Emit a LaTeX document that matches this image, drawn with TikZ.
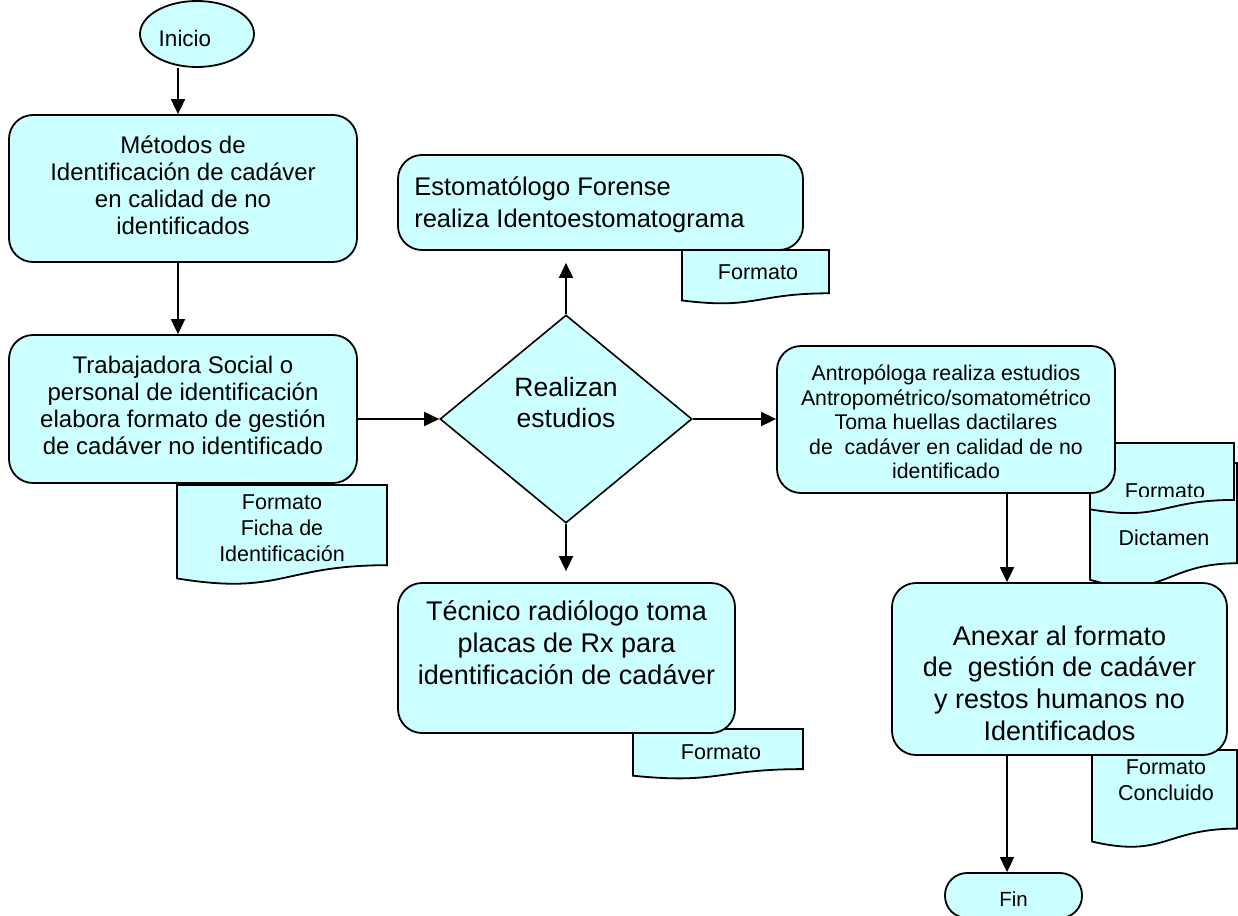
\documentclass[tikz,border=0pt]{standalone}
\usepackage{fontspec}
\setmainfont{Liberation Sans}
\usetikzlibrary{shapes.geometric,arrows.meta,calc}
\definecolor{cyanfill}{HTML}{CCFFFF}
\newcommand\setfs[2]{\fontsize{#1pt}{#2pt}\selectfont}
% flowchart "document" symbol: x0, y0 (top left), width, height
\newcommand\docshape[4]{%
  \draw[docline] (#1,#2) -- ({#1+#3},#2) -- ({#1+#3},{#2+0.802*#4})
    .. controls ({#1+#3/2},{#2+0.802*#4}) and ({#1+#3/2},{#2+1.1075*#4}) .. (#1,{#2+0.934*#4}) -- cycle;}
\tikzset{
  docline/.style={draw=black, line width=1.8pt, fill=cyanfill, line join=miter},
  doctxt/.style={align=center, inner sep=0pt, font=\setfs{21.5}{26}},
  procbox/.style={draw=black, line width=1.8pt, fill=cyanfill, rounded corners=24pt, align=center, inner sep=0pt},
  term/.style={draw=black, line width=1.8pt, fill=cyanfill, inner sep=0pt},
  decbox/.style={draw=black, line width=1.6pt, fill=cyanfill, diamond, inner sep=0pt},
  arr/.style={draw=black, line width=1.8pt, -{Triangle[length=15pt,width=14pt]}},
}
\begin{document}
\begin{tikzpicture}[x=1pt,y=-1pt]
\useasboundingbox (0,0) rectangle (1238,915);

% attached documents (drawn first, they sit behind the boxes)
\docshape{177}{485}{210}{100}
\docshape{682}{250}{147}{54}
\docshape{633}{729}{170}{50}
\docshape{1090}{463}{147}{125}
\docshape{1090}{443}{144}{71}
\docshape{1092}{750}{145}{98}

\begin{scope}
  \clip (177,485) rectangle (387,561);
  \node[doctxt] (ficha) at (282,528) {Formato\\Ficha de\\Identificación};
\end{scope}
\node[doctxt] (fmtA) at (758,272) {Formato};
\node[doctxt] (fmtB) at (721,752) {Formato};
\node[doctxt] (dictamen) at (1164,538) {Dictamen};
\begin{scope}
  \clip (1090,443) rectangle (1234,496);
  \node[doctxt] (fmtC) at (1165,491) {Formato};
\end{scope}
\node[doctxt] (concluido) at (1166,780) {Formato\\Concluido};

% terminals
\node[term, ellipse, minimum width=114pt, minimum height=66pt,
  label={[font=\setfs{22.5}{26}, xshift=-12pt, yshift=-4pt]center:Inicio}] (inicio) at (197,34) {};
\node[term, rounded corners=22pt, minimum width=137pt, minimum height=45pt,
  label={[font=\setfs{20.5}{24}, yshift=-4pt]center:Fin}] (fin) at (1013.5,895.5) {};

% process boxes
\node[procbox, minimum width=348pt, minimum height=147pt,
  label={[font=\setfs{24}{27}, align=center, yshift=3pt]center:Métodos de\\Identificación de cadáver\\en calidad de no\\identificados}]
  (box1) at (183,188.5) {};
\node[procbox, minimum width=348pt, minimum height=148pt,
  label={[font=\setfs{24}{27}, align=center, yshift=3.5pt]center:Trabajadora Social o\\personal de identificación\\elabora formato de gestión\\de cadáver no identificado}]
  (box2) at (183,409) {};
\node[procbox, minimum width=405pt, minimum height=95pt,
  label={[font=\setfs{25.5}{32}, align=left, anchor=west, inner xsep=0pt, xshift=17pt, yshift=-2pt]west:{Estomatólogo Forense\\realiza Identoestomatograma}}]
  (estom) at (600.5,202.5) {};
\node[procbox, minimum width=337pt, minimum height=150pt,
  label={[font=\setfs{27}{32}, align=center, yshift=15pt]center:Técnico radiólogo toma\\placas de Rx para\\identificación de cadáver}]
  (tec) at (566.5,658) {};
\node[procbox, minimum width=338pt, minimum height=147pt,
  label={[font=\setfs{21.3}{24.5}, align=center, yshift=-2.5pt]center:Antropóloga realiza estudios\\Antropométrico/somatométrico\\Toma huellas dactilares\\de\ \ cadáver en calidad de no\\identificado}]
  (antrop) at (946,419.5) {};
\node[procbox, minimum width=335pt, minimum height=172pt,
  label={[font=\setfs{27}{31.7}, align=center, yshift=-14pt]center:Anexar al formato\\de\ \ gestión de cadáver\\y restos humanos no\\Identificados}]
  (anexar) at (1059.5,669) {};

% decision
\node[decbox, minimum width=252pt, minimum height=208pt,
  label={[font=\setfs{26.5}{31}, align=center, yshift=16pt]center:Realizan\\estudios}] (dec) at (566,419) {};

% connectors
\coordinate (colL) at ([xshift=-5pt]box1.north);
\coordinate (colL2) at ([xshift=-5pt]box1.south);
\draw[arr] (colL |- inicio.south) -- (colL);
\draw[arr] (colL2) -- (colL2 |- box2.north);
\draw[arr] (box2.east |- dec.west) -- (dec.west);
\draw[arr, shorten >=12pt] (dec.north) -- (estom.south -| dec.north);
\draw[arr, shorten >=11pt] (dec.south) -- (tec.north -| dec.south);
\draw[arr] (dec.east) -- (antrop.west |- dec.east);
\coordinate (colR) at ([xshift=61pt]antrop.south);
\draw[arr] (colR) -- (colR |- anexar.north);
\draw[arr] (colR |- anexar.south) -- (colR |- fin.north);
\end{tikzpicture}
\end{document}
